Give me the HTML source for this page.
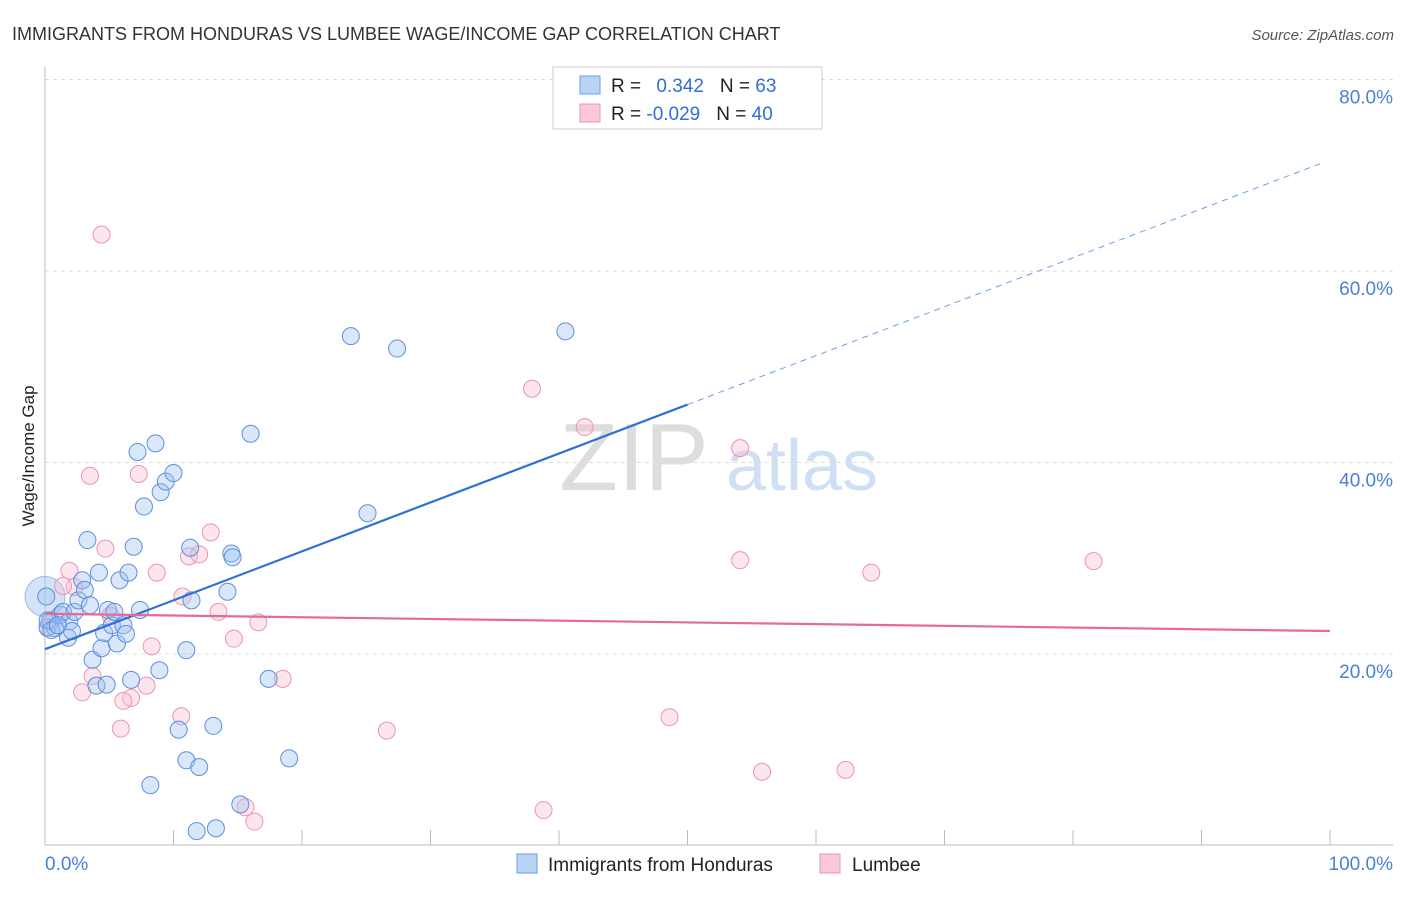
<!DOCTYPE html>
<html><head><meta charset="utf-8"><style>
body{margin:0;background:#fff;font-family:"Liberation Sans",sans-serif}
svg text{font-family:"Liberation Sans",sans-serif}
</style></head><body>
<svg id="c" width="1406" height="892">
<text x="12" y="40" font-size="18" fill="#333">IMMIGRANTS FROM HONDURAS VS LUMBEE WAGE/INCOME GAP CORRELATION CHART</text>
<text x="1394" y="40" font-size="15" fill="#555" font-style="italic" text-anchor="end">Source: ZipAtlas.com</text>
<text x="634" y="490" font-size="96" fill="#ddd" font-family="Liberation Serif" text-anchor="middle">ZIP</text>
<text x="802" y="490" font-size="72" fill="#cfe0f5" text-anchor="middle">atlas</text>
<text transform="translate(34,456) rotate(-90)" font-size="17" fill="#222" text-anchor="middle">Wage/Income Gap</text>
<g id="grid"></g><g id="pts"></g><g id="trend"></g>
<g>
<rect x="553" y="67" width="269" height="62" fill="#fff" stroke="#ccc"/>
<rect x="580" y="76" width="20" height="18" fill="#b9d3f5" stroke="#6a9ee6"/>
<rect x="580" y="104" width="20" height="18" fill="#f9c9d8" stroke="#ec94b2"/>
<text x="611" y="92" font-size="19" fill="#222">R = <tspan fill="#2f6fd6" dx="10">0.342</tspan><tspan dx="16" fill="#222">N = </tspan><tspan fill="#2f6fd6">63</tspan></text>
<text x="611" y="120" font-size="19" fill="#222">R = <tspan fill="#2f6fd6">-0.029</tspan><tspan dx="16" fill="#222">N = </tspan><tspan fill="#2f6fd6">40</tspan></text>
</g>
<g>
<rect x="517" y="854" width="20" height="19" fill="#b9d3f5" stroke="#6a9ee6"/>
<text x="548" y="871" font-size="19" fill="#222">Immigrants from Honduras</text>
<rect x="820" y="854" width="20" height="19" fill="#f9c9d8" stroke="#ec94b2"/>
<text x="852" y="871" font-size="19" fill="#222">Lumbee</text>
</g>
</svg>
<script>
const blueX=[0.2,0.4,0.8,1.2,1.4,1.8,1.9,2.1,2.3,2.6,2.9,3.1,3.3,3.5,3.7,4.0,4.2,4.4,4.6,4.8,4.9,5.2,5.4,5.6,5.8,6.1,6.3,6.5,6.7,6.9,7.2,7.4,7.7,8.2,8.6,8.9,9.0,9.4,10.0,10.4,11.0,11.0,11.3,11.4,11.8,12.0,13.1,13.3,14.2,14.5,14.6,15.2,16.0,17.4,19.0,23.8,25.1,27.4,40.5,0.2,0.5,1.0,0.1];
const blueY=[22.8,23.5,22.7,24.1,24.4,21.7,23.4,22.4,24.4,25.6,27.7,26.7,31.9,25.1,19.4,16.7,28.5,20.6,22.2,16.8,24.6,23.0,24.4,21.1,27.7,23.0,22.1,28.5,17.3,31.2,41.1,24.6,35.4,6.3,42.0,18.3,36.9,38.0,38.9,12.1,20.4,8.9,31.1,25.6,1.5,8.2,12.5,1.8,26.5,30.5,30.1,4.3,43.0,17.4,9.1,53.2,34.7,51.9,53.7,23.5,22.5,23.0,26.0];
const pinkX=[4.4,3.5,7.3,4.7,1.9,2.3,8.7,10.7,11.2,12.0,12.9,13.5,14.7,16.6,18.5,8.3,7.9,6.7,6.1,3.7,2.9,5.9,10.6,15.6,16.3,26.6,37.9,42.0,54.1,54.1,64.3,81.6,48.6,55.8,62.3,38.8,0.2,0.5,1.4,5.1];
const pinkY=[63.8,38.6,38.8,31.0,28.7,27.0,28.5,26.0,30.2,30.4,32.7,24.4,21.6,23.3,17.4,20.8,16.7,15.4,15.1,17.7,16.0,12.2,13.5,4.0,2.5,12.0,47.7,43.7,41.5,29.8,28.5,29.7,13.4,7.7,7.9,3.7,22.7,23.4,27.1,24.0];
const yTicks=[20,40,60,80];
const blueTrend=[20.5,71.6];
const pinkTrend=[24.2,22.4];
const NS="http://www.w3.org/2000/svg";
const sx=v=>45+v*12.85, sy=v=>845.5-v*9.575;
function mk(t,a,p){const e=document.createElementNS(NS,t);for(const k in a)e.setAttribute(k,a[k]);document.getElementById(p).appendChild(e);return e;}
yTicks.forEach(t=>{
 const l=mk('line',{x1:45,x2:1393,y1:sy(t),y2:sy(t),stroke:'#ddd','stroke-dasharray':'4,4'},'grid');
 
 
 const tx=mk('text',{x:1393,y:sy(t)+24,'font-size':19,fill:'#4a7fd8','text-anchor':'end'},'grid');
 tx.textContent=t.toFixed(1)+'%';
 
 
});
mk('line',{x1:45,x2:45,y1:67,y2:845,stroke:'#bbb'},'grid');
mk('line',{x1:45,x2:1393,y1:845,y2:845,stroke:'#bbb'},'grid');
for(let i=1;i<=10;i++){const l=mk('line',{x1:sx(i*10),x2:sx(i*10),y1:830,y2:845,stroke:'#bbb'},'grid');
 
 }
[['0.0%',45,'start'],['100.0%',1393,'end']].forEach(d=>{const t=mk('text',{x:d[1],y:870,'font-size':19,fill:'#4a7fd8','text-anchor':d[2]},'grid');t.textContent=d[0];
 
 });
const big=mk('circle',{cx:sx(0),cy:sy(26),r:20,fill:'rgba(160,195,240,0.45)',stroke:'rgba(100,150,225,0.6)'},'pts');


pinkX.forEach((x,i)=>{const c=mk('circle',{cx:sx(x),cy:sy(pinkY[i]),r:8.5,fill:'rgba(248,190,210,0.4)',stroke:'#e995b3','stroke-width':1},'pts');
 
 });
blueX.forEach((x,i)=>{const c=mk('circle',{cx:sx(x),cy:sy(blueY[i]),r:8.5,fill:'rgba(160,195,240,0.4)',stroke:'#5b90de','stroke-width':1},'pts');
 
 });
const by=x=>blueTrend[0]+(blueTrend[1]-blueTrend[0])*x/100;
let l=mk('line',{x1:sx(0),y1:sy(by(0)),x2:sx(50),y2:sy(by(50)),stroke:'#2f6fd6','stroke-width':2.2},'trend');


l=mk('line',{x1:sx(50),y1:sy(by(50)),x2:sx(99.6),y2:sy(by(99.6)),stroke:'#6a9ee6','stroke-width':1,'stroke-dasharray':'6,5'},'trend');


l=mk('line',{x1:sx(0),y1:sy(pinkTrend[0]),x2:sx(100),y2:sy(pinkTrend[1]),stroke:'#e56a98','stroke-width':2.2},'trend');


</script>
</body></html>
